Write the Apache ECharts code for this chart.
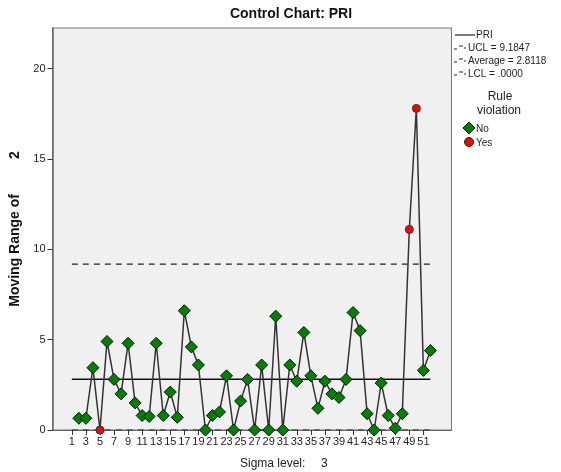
<!DOCTYPE html>
<html>
<head>
<meta charset="utf-8">
<script src="https://cdn.jsdelivr.net/npm/echarts@6/dist/echarts.min.js"></script>
<style>
  html, body { margin: 0; padding: 0; background: #fff; }
  #chart { width: 561px; height: 472px; }
</style>
</head>
<body>
<div id="chart"></div>
<script>
// Moving range (span 2) of PRI, observations 2..52
const observations = [
  2, 3, 4, 5, 6, 7, 8, 9, 10, 11, 12, 13, 14, 15, 16, 17, 18, 19, 20, 21,
  22, 23, 24, 25, 26, 27, 28, 29, 30, 31, 32, 33, 34, 35, 36, 37, 38, 39, 40, 41,
  42, 43, 44, 45, 46, 47, 48, 49, 50, 51, 52
];
const movingRange = [
  0.65, 0.65, 3.45, 0.0, 4.9, 2.8, 2.0, 4.8, 1.5, 0.8, 0.75, 4.8, 0.8, 2.1, 0.7, 6.6, 4.6, 3.6, 0.0, 0.8,
  1.0, 3.0, 0.0, 1.6, 2.8, 0.0, 3.6, 0.0, 6.3, 0.0, 3.6, 2.7, 5.4, 3.0, 1.2, 2.7, 2.0, 1.8, 2.8, 6.5,
  5.5, 0.9, 0.0, 2.6, 0.8, 0.1, 0.9, 11.1, 17.8, 3.3, 4.4
];
// 1 = rule violation
const violation = [
  0, 0, 0, 1, 0, 0, 0, 0, 0, 0, 0, 0, 0, 0, 0, 0, 0, 0, 0, 0,
  0, 0, 0, 0, 0, 0, 0, 0, 0, 0, 0, 0, 0, 0, 0, 0, 0, 0, 0, 0,
  0, 0, 0, 0, 0, 0, 0, 1, 1, 0, 0
];
const controlLimits = { ucl: 9.1847, average: 2.8118, lcl: 0.0 };
const limitSpan = [1, 52];
const xTickValues = [1,3,5,7,9,11,13,15,17,19,21,23,25,27,29,31,33,35,37,39,41,43,45,47,49,51];
const yTickValues = [0, 5, 10, 15, 20];

const points = observations.map((o, i) => [o, movingRange[i]]);
const okPoints = points.filter((p, i) => !violation[i]);
const badPoints = points.filter((p, i) => violation[i]);
const hLine = v => limitSpan.map(x => [x, v]);

const chart = echarts.init(document.getElementById('chart'), null, { renderer: 'canvas' });
const font = 'Arial, "Liberation Sans", sans-serif';
const txt = '#222';

const legendX = 455;
const graphic = [
  { type: 'text', style: { text: 'Control Chart: PRI', x: 291, y: 14, fill: '#111', font: 'bold 14px ' + font, textAlign: 'center', textVerticalAlign: 'middle' } },
  // legend: line items
  { type: 'line', shape: { x1: legendX, y1: 35, x2: legendX + 20, y2: 35 }, style: { stroke: '#222', lineWidth: 1.2 } },
  { type: 'text', style: { text: 'PRI', x: legendX + 21, y: 35, fill: txt, font: '10px ' + font, textVerticalAlign: 'middle' } },
  // UCL / Average / LCL dashed icons
  ...[['UCL = 9.1847', 48], ['Average = 2.8118', 61], ['LCL = .0000', 74]].flatMap(([label, y]) => [
    { type: 'line', shape: { x1: legendX - 1, y1: y + 1, x2: legendX + 2, y2: y + 1 }, style: { stroke: '#222', lineWidth: 1 } },
    { type: 'line', shape: { x1: legendX + 4, y1: y - 2, x2: legendX + 8, y2: y - 2 }, style: { stroke: '#222', lineWidth: 1 } },
    { type: 'line', shape: { x1: legendX + 9, y1: y, x2: legendX + 11, y2: y }, style: { stroke: '#222', lineWidth: 1 } },
    { type: 'text', style: { text: label, x: legendX + 13, y: y, fill: txt, font: '10px ' + font, textVerticalAlign: 'middle' } }
  ]),
  { type: 'text', style: { text: 'Rule', x: 500, y: 97, fill: txt, font: '12px ' + font, textAlign: 'center', textVerticalAlign: 'middle' } },
  { type: 'text', style: { text: 'violation', x: 499, y: 111, fill: txt, font: '12px ' + font, textAlign: 'center', textVerticalAlign: 'middle' } },
  { type: 'polygon', shape: { points: [[469, 122], [475, 128], [469, 134], [463, 128]] }, style: { fill: '#008000', stroke: '#111', lineWidth: 1 } },
  { type: 'text', style: { text: 'No', x: 476, y: 129, fill: txt, font: '10px ' + font, textVerticalAlign: 'middle' } },
  { type: 'circle', shape: { cx: 469, cy: 142, r: 4.5 }, style: { fill: '#ff0000', stroke: '#222', lineWidth: 1 } },
  { type: 'text', style: { text: 'Yes', x: 476, y: 143, fill: txt, font: '10px ' + font, textVerticalAlign: 'middle' } },
  // sigma level footer
  { type: 'text', style: { text: 'Sigma level:', x: 240, y: 464, fill: txt, font: '12px ' + font, textVerticalAlign: 'middle' } },
  { type: 'text', style: { text: '3', x: 321, y: 464, fill: txt, font: '12px ' + font, textVerticalAlign: 'middle' } }
];

chart.setOption({
  animation: false,
  backgroundColor: '#ffffff',
  textStyle: { fontFamily: font },
  grid: {
    left: 52.5, right: 109.5, top: 28, bottom: 42,
    show: true, backgroundColor: '#f0f0f0', borderColor: '#777', borderWidth: 1
  },
  xAxis: {
    type: 'value', min: -1.75, max: 55,
    splitLine: { show: false },
    axisLine: { show: true, onZero: false, lineStyle: { color: '#666', width: 1 } },
    axisTick: { show: true, length: 5, customValues: xTickValues, lineStyle: { color: '#333' } },
    axisLabel: { customValues: xTickValues, color: txt, fontSize: 11, margin: 6, fontFamily: font }
  },
  yAxis: {
    type: 'value', min: 0, max: 22.25,
    name: 'Moving Range of         2', nameLocation: 'middle', nameGap: 27,
    nameTextStyle: { color: '#111', fontSize: 14, fontWeight: 'bold', fontFamily: font },
    splitLine: { show: false },
    axisLine: { show: true, onZero: false, lineStyle: { color: '#666', width: 1.5 } },
    axisTick: { show: true, length: 5, customValues: yTickValues, lineStyle: { color: '#333' } },
    axisLabel: { customValues: yTickValues, color: txt, fontSize: 11, margin: 7, fontFamily: font }
  },
  graphic: graphic,
  series: [
    { name: 'UCL', type: 'line', data: hLine(controlLimits.ucl), symbol: 'none', lineStyle: { color: '#222', width: 1.2, type: [6, 5] }, z: 2 },
    { name: 'Average', type: 'line', data: hLine(controlLimits.average), symbol: 'none', lineStyle: { color: '#111', width: 1.5 }, z: 2 },
    { name: 'LCL', type: 'line', data: hLine(controlLimits.lcl), symbol: 'none', lineStyle: { color: '#222', width: 1.2, type: [6, 5] }, z: 2 },
    { name: 'PRI', type: 'line', data: points, symbol: 'none', lineStyle: { color: '#333', width: 1.5 }, z: 3 },
    { name: 'No', type: 'scatter', data: okPoints, symbol: 'diamond', symbolSize: [12, 12],
      itemStyle: { color: '#008000', borderColor: '#111', borderWidth: 1, opacity: 1 }, z: 4 },
    { name: 'Yes', type: 'scatter', data: badPoints, symbol: 'circle', symbolSize: 8,
      itemStyle: { color: '#ff0000', borderColor: '#333', borderWidth: 1, opacity: 1 }, z: 5 }
  ]
});
</script>
</body>
</html>
